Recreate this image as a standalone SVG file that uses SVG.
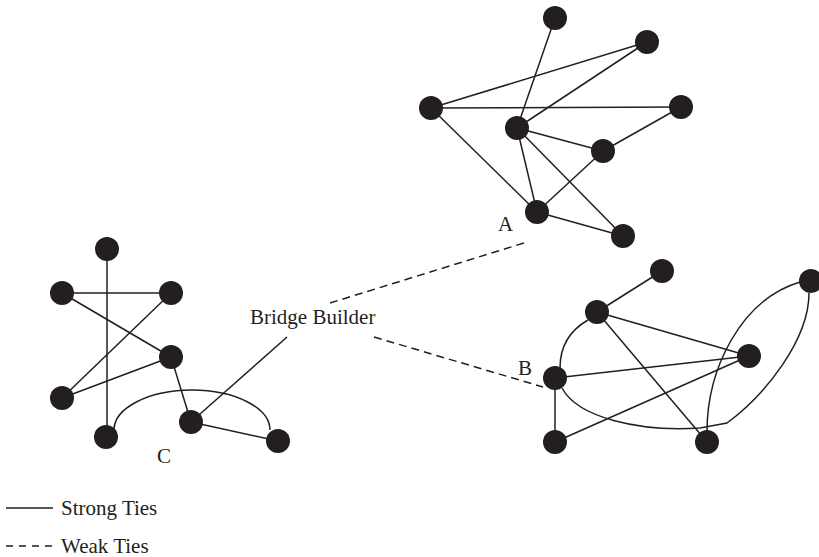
<svg xmlns="http://www.w3.org/2000/svg" width="819" height="557" viewBox="0 0 819 557">
<style>
.e{stroke:#231f20;stroke-width:1.5;fill:none}
.w{stroke:#231f20;stroke-width:1.5;fill:none;stroke-dasharray:8,5}
.n{fill:#231f20}
text{font-family:"Liberation Serif","Times New Roman",serif;font-size:21px;fill:#231f20}
</style>
<rect width="819" height="557" fill="#fff"/>
<g id="connectors">
<!-- A -->
<line class="e" x1="555" y1="18" x2="517" y2="128"/>
<line class="e" x1="647" y1="42" x2="431" y2="108"/>
<line class="e" x1="647" y1="42" x2="517" y2="128"/>
<line class="e" x1="431" y1="108" x2="681" y2="107"/>
<line class="e" x1="431" y1="108" x2="537" y2="212"/>
<line class="e" x1="517" y1="128" x2="603" y2="151"/>
<line class="e" x1="517" y1="128" x2="537" y2="212"/>
<line class="e" x1="517" y1="128" x2="623" y2="236"/>
<line class="e" x1="603" y1="151" x2="681" y2="107"/>
<line class="e" x1="603" y1="151" x2="537" y2="212"/>
<line class="e" x1="537" y1="212" x2="623" y2="236"/>
<!-- B -->
<line class="e" x1="662" y1="271" x2="597" y2="312"/>
<line class="e" x1="597" y1="312" x2="749" y2="356"/>
<line class="e" x1="597" y1="312" x2="707" y2="442"/>
<line class="e" x1="555" y1="378" x2="749" y2="356"/>
<line class="e" x1="555" y1="442" x2="749" y2="356"/>
<line class="e" x1="555" y1="378" x2="555" y2="442"/>
<path class="e" d="M588,320 Q560,336 560,368"/>
<path class="e" d="M562,388 C578,418 640,432 700,428 L727,423 C765,395 809,340 809,293"/>
<path class="e" d="M707,432 C707,370 740,300 800,282"/>
<!-- C -->
<line class="e" x1="107" y1="249" x2="107" y2="437"/>
<line class="e" x1="62" y1="293" x2="171" y2="293"/>
<line class="e" x1="62" y1="293" x2="171" y2="357"/>
<line class="e" x1="171" y1="293" x2="62" y2="398"/>
<line class="e" x1="171" y1="357" x2="62" y2="398"/>
<line class="e" x1="171" y1="357" x2="191" y2="422"/>
<line class="e" x1="191" y1="422" x2="278" y2="441"/>
<path class="e" d="M114,430 A78,40 0 0 1 270,430"/>
<!-- bridge -->
<line class="e" x1="287" y1="337" x2="191" y2="422"/>
<line class="w" x1="330" y1="303" x2="524" y2="243"/>
<line class="w" x1="374" y1="337" x2="543" y2="387"/>
</g>
<g id="clusterA">
<circle id="a1" class="n" cx="555" cy="18" r="12"/>
<circle id="a2" class="n" cx="647" cy="42" r="12"/>
<circle id="a3" class="n" cx="431" cy="108" r="12"/>
<circle id="a4" class="n" cx="681" cy="107" r="12"/>
<circle id="a5" class="n" cx="517" cy="128" r="12"/>
<circle id="a6" class="n" cx="603" cy="151" r="12"/>
<circle id="a7" class="n" cx="537" cy="212" r="12"/>
<circle id="a8" class="n" cx="623" cy="236" r="12"/>
<text x="498" y="231">A</text>
</g>
<g id="clusterB">
<circle id="b1" class="n" cx="662" cy="271" r="12"/>
<circle id="b2" class="n" cx="597" cy="312" r="12"/>
<circle id="b3" class="n" cx="811" cy="281" r="12"/>
<circle id="b4" class="n" cx="749" cy="356" r="12"/>
<circle id="b5" class="n" cx="555" cy="378" r="12"/>
<circle id="b6" class="n" cx="555" cy="442" r="12"/>
<circle id="b7" class="n" cx="707" cy="442" r="12"/>
<text x="518" y="375">B</text>
</g>
<g id="clusterC">
<circle id="c1" class="n" cx="107" cy="249" r="12"/>
<circle id="c2" class="n" cx="62" cy="293" r="12"/>
<circle id="c3" class="n" cx="171" cy="293" r="12"/>
<circle id="c4" class="n" cx="171" cy="357" r="12"/>
<circle id="c5" class="n" cx="62" cy="398" r="12"/>
<circle id="c6" class="n" cx="106" cy="437" r="12"/>
<circle id="c7" class="n" cx="191" cy="422" r="12"/>
<circle id="c8" class="n" cx="278" cy="441" r="12"/>
<text x="157" y="463">C</text>
</g>
<g id="bridge">
<text x="250" y="324">Bridge Builder</text>
</g>
<g id="legend">
<line class="e" x1="6" y1="508" x2="53" y2="508"/>
<text x="61" y="515">Strong Ties</text>
<line class="w" x1="6" y1="546" x2="52" y2="546" style="stroke-dasharray:7,6"/>
<text x="61" y="553">Weak Ties</text>
</g>
</svg>
